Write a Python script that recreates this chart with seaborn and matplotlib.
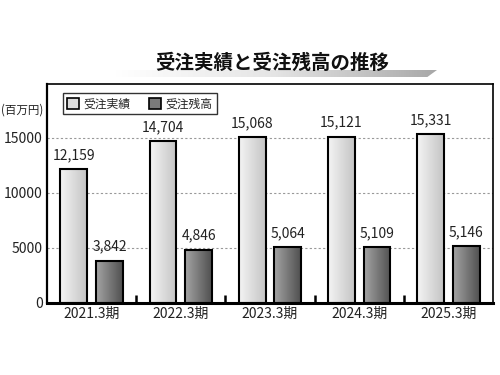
import numpy as np
import pandas as pd
import matplotlib
matplotlib.use("Agg")
import matplotlib.pyplot as plt
from matplotlib.colors import LinearSegmentedColormap
from matplotlib.patches import Rectangle, Polygon
import seaborn as sns

categories = ["2021.3期", "2022.3期", "2023.3期", "2024.3期", "2025.3期"]
series_names = ["受注実績", "受注残高"]
orders = [12159, 14704, 15068, 15121, 15331]
backlog = [3842, 4846, 5064, 5109, 5146]
yticks = [0, 5000, 10000, 15000]
title = "受注実績と受注残高の推移"
unit_label = "(百万円)"

sns.set_theme(style="white")
plt.rcParams["font.family"] = ["Noto Sans CJK JP", "DejaVu Sans"]

df = pd.DataFrame({
    "期": categories * 2,
    "値": orders + backlog,
    "系列": [series_names[0]] * 5 + [series_names[1]] * 5,
})

fig = plt.figure(figsize=(5, 3.75), dpi=100)
fig.patch.set_facecolor("white")
ax = fig.add_axes([47 / 500, 1 - 303 / 375, 446 / 500, 219 / 375])

sns.barplot(data=df, x="期", y="値", hue="系列", hue_order=series_names,
            order=categories, gap=0.25, width=0.8, legend=False, ax=ax,
            edgecolor="black", linewidth=1.5, errorbar=None)

ax.set_ylim(0, 19900)
ax.set_xlim(-0.5, 4.5)

cmaps = [
    LinearSegmentedColormap.from_list("light", ["#f4f4f4", "#c4c4c4"]),
    LinearSegmentedColormap.from_list("dark", ["#a4a4a4", "#505050"]),
]
grad = np.linspace(0, 1, 64).reshape(1, -1)
for ci, cont in enumerate(ax.containers):
    for bar in cont:
        x0, y0 = bar.get_x(), bar.get_y()
        w, h = bar.get_width(), bar.get_height()
        bar.set_facecolor("none")
        bar.set_zorder(3)
        im = ax.imshow(grad, extent=[x0, x0 + w, y0, y0 + h], aspect="auto",
                       cmap=cmaps[ci], zorder=2.5, interpolation="bilinear")
        im.set_clip_path(bar)
    ax.bar_label(cont, labels=[f"{v:,.0f}" for v in cont.datavalues],
                 padding=5, fontsize=10, color="#222222")

ax.set_xlim(-0.5, 4.5)
ax.set_ylim(0, 19900)

ax.set_yticks(yticks)
ax.set_yticklabels([str(v) for v in yticks], fontsize=10, color="#222222")
ax.set_xticklabels(categories, fontsize=10, color="#222222")
ax.set_xlabel("")
ax.set_ylabel("")
ax.tick_params(axis="both", length=0, pad=3)
ax.set_xticks([0.5, 1.5, 2.5, 3.5], minor=True)
ax.tick_params(axis="x", which="minor", direction="in", length=6, width=1.8,
               color="black", bottom=True)

for yv in yticks[1:]:
    ax.axhline(yv, color="#999999", linestyle=(0, (2, 2)), linewidth=0.8, zorder=1)

for side in ["top", "right"]:
    ax.spines[side].set_linewidth(1.2)
    ax.spines[side].set_color("black")
ax.spines["left"].set_linewidth(1.6)
ax.spines["left"].set_color("black")
ax.spines["bottom"].set_linewidth(2.2)
ax.spines["bottom"].set_color("black")

# legend
handles = [Rectangle((0, 0), 1, 1, facecolor="#dcdcdc", edgecolor="black", linewidth=1.2),
           Rectangle((0, 0), 1, 1, facecolor="#7a7a7a", edgecolor="black", linewidth=1.2)]
leg = ax.legend(handles, series_names, loc="upper left", ncol=2, fontsize=8.5,
                frameon=True, fancybox=False, edgecolor="black",
                handlelength=1.0, handleheight=1.0, handletextpad=0.4,
                columnspacing=1.6, borderpad=0.35,
                bbox_to_anchor=(0.022, 0.985))
leg.get_frame().set_linewidth(1.0)

# title stripe
sax = fig.add_axes([115 / 500, 1 - 77 / 375, 322 / 500, 7 / 375])
sax.axis("off")
sax.set_xlim(0, 1)
sax.set_ylim(0, 1)
stripe_cmap = LinearSegmentedColormap.from_list("stripe", ["#ffffff", "#e4e4e4", "#a8a8a8"])
sim = sax.imshow(np.linspace(0, 1, 128).reshape(1, -1), extent=[0, 1, 0, 1],
                 aspect="auto", cmap=stripe_cmap)
poly = Polygon([(0, 0), (0.97, 0), (1, 1), (0, 1)], closed=True, transform=sax.transData,
               facecolor="none", edgecolor="none")
sax.add_patch(poly)
sim.set_clip_path(poly)

fig.text(272 / 500, 1 - 63 / 375, title, fontsize=14, fontweight="bold",
         ha="center", va="center", color="#111111")
fig.text(1 / 500, 1 - 110 / 375, unit_label, fontsize=8.3, ha="left", va="center",
         color="#222222")

fig.savefig("out.png", dpi=100)
